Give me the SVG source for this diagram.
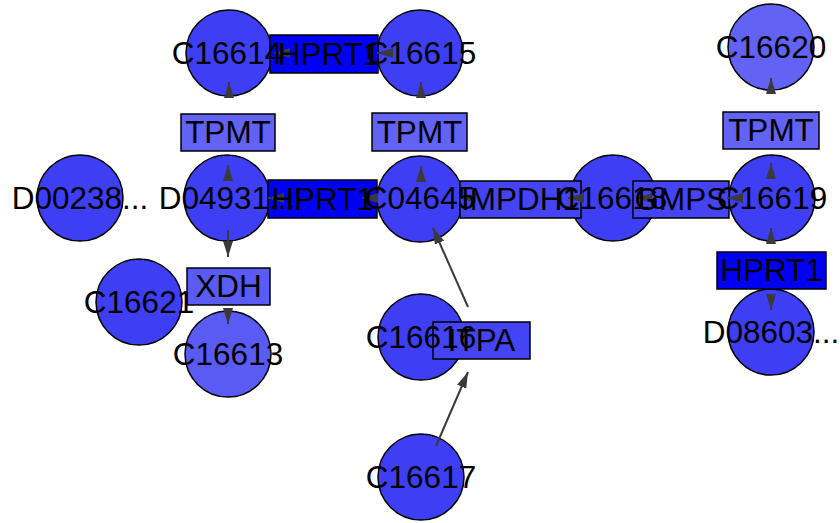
<svg xmlns="http://www.w3.org/2000/svg" width="840" height="523" viewBox="0 0 840 523">
<style>
.node circle, .node rect { stroke: #000; stroke-width: 1.5; }
.c { fill: #3e3ef5; }
.c2 { fill: #5a5af5; }
.c3 { fill: #6262f5; }
.r-h { fill: #0000f5; }
.r-t { fill: #6262f5; }
.r-x { fill: #5a5af5; }
.r-m { fill: #4444f5; }
.lbl text { font-family: "Liberation Sans", Arial, sans-serif; font-size: 31.5px; fill: #000; text-anchor: middle; }
.edges path { stroke: #3a3a3a; stroke-width: 2; fill: none; marker-end: url(#arrow); }
</style>
<defs>
<marker id="arrow" markerUnits="userSpaceOnUse" viewBox="0 0 16 10" refX="16" refY="5" markerWidth="16" markerHeight="10" orient="auto">
<path d="M0,0 L16,5 L0,10 z" fill="#3a3a3a"/>
</marker>
</defs>

<g id="node-C16614" class="node"><circle class="c" cx="229" cy="53" r="43"/></g>
<g id="node-C16615" class="node"><circle class="c" cx="420" cy="53" r="43"/></g>
<g id="node-C16620" class="node"><circle class="c3" cx="771" cy="47" r="43"/></g>
<g id="node-D00238" class="node"><circle class="c" cx="80" cy="198" r="43"/></g>
<g id="node-D04931" class="node"><circle class="c" cx="227" cy="198" r="43"/></g>
<g id="node-C04645" class="node"><circle class="c" cx="420" cy="199" r="43"/></g>
<g id="node-C16618" class="node"><circle class="c" cx="613" cy="198" r="43"/></g>
<g id="node-C16619" class="node"><circle class="c" cx="772" cy="198" r="43"/></g>
<g id="node-C16621" class="node"><circle class="c" cx="139" cy="302" r="43"/></g>
<g id="node-C16613" class="node"><circle class="c2" cx="228" cy="354" r="43"/></g>
<g id="node-C16616" class="node"><circle class="c" cx="421" cy="337" r="43"/></g>
<g id="node-D08603" class="node"><circle class="c" cx="771" cy="332" r="43"/></g>
<g id="node-C16617" class="node"><circle class="c" cx="421" cy="477" r="43"/></g>

<g id="node-HPRT1-a" class="node"><rect class="r-h" x="270" y="35" width="108" height="38"/></g>
<g id="node-TPMT-a" class="node"><rect class="r-t" x="181" y="114" width="94" height="37"/></g>
<g id="node-TPMT-b" class="node"><rect class="r-t" x="372" y="113" width="95" height="38"/></g>
<g id="node-TPMT-c" class="node"><rect class="r-t" x="723" y="112" width="96" height="37"/></g>
<g id="node-HPRT1-b" class="node"><rect class="r-h" x="268" y="180" width="109" height="38"/></g>
<g id="node-IMPDH1" class="node"><rect class="r-m" x="460" y="181" width="121" height="37"/></g>
<g id="node-GMPS" class="node"><rect class="r-m" x="633" y="181" width="96" height="37"/></g>
<g id="node-XDH" class="node"><rect class="r-x" x="187" y="268" width="83" height="37"/></g>
<g id="node-HPRT1-c" class="node"><rect class="r-h" x="717" y="252" width="109" height="37"/></g>
<g id="node-ITPA" class="node"><rect class="r-m" x="433" y="322" width="97" height="37"/></g>

<g id="connectors" class="edges">
<path d="M290,53 L274,53"/>
<path d="M393,53 L377,53"/>
<path d="M229,98 L229,82"/>
<path d="M421,98 L421,82"/>
<path d="M228,181 L228,165"/>
<path d="M228,230 L228,257"/>
<path d="M228,308 L228,324"/>
<path d="M284,198 L268,198"/>
<path d="M378,198 L362,198"/>
<path d="M476,198 L460,198"/>
<path d="M584,198 L568,198"/>
<path d="M652,198 L636,198"/>
<path d="M743,198 L727,198"/>
<path d="M421,182 L421,166"/>
<path d="M771,179 L771,163"/>
<path d="M771,244 L771,228"/>
<path d="M771,94 L771,78"/>
<path d="M771,294 L771,310"/>
<path d="M468,307 L433,228"/>
<path d="M436,446 L468,372"/>
</g>

<g id="labels" class="lbl">
<text x="227" y="64">C16614</text>
<text x="421" y="64">C16615</text>
<text x="771" y="58">C16620</text>
<text x="80" y="209">D00238...</text>
<text x="227" y="209">D04931...</text>
<text x="420" y="209">C04645</text>
<text x="612" y="209">C16618</text>
<text x="772" y="209">C16619</text>
<text x="139" y="313">C16621</text>
<text x="228" y="365">C16613</text>
<text x="421" y="348">C16616</text>
<text x="771" y="343">D08603...</text>
<text x="421" y="488">C16617</text>
<text x="329" y="65">HPRT1</text>
<text x="228" y="143">TPMT</text>
<text x="419.5" y="143">TPMT</text>
<text x="771" y="141">TPMT</text>
<text x="322.5" y="210">HPRT1</text>
<text x="520.5" y="210">IMPDH1</text>
<text x="681" y="210">GMPS</text>
<text x="228.5" y="297">XDH</text>
<text x="771.5" y="281">HPRT1</text>
<text x="481.5" y="351">ITPA</text>
</g>
</svg>
